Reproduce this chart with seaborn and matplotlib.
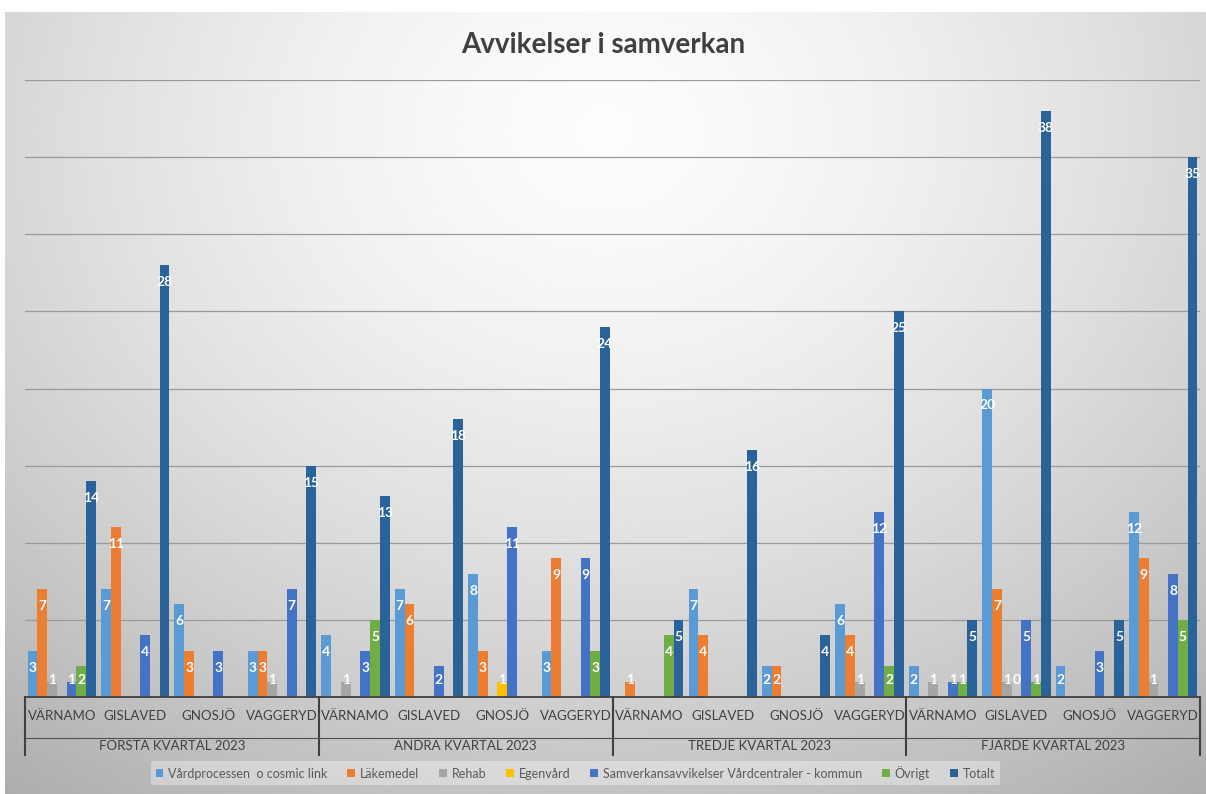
import numpy as np
import pandas as pd
import seaborn as sns
import matplotlib.pyplot as plt
from matplotlib import transforms

N = np.nan

quarters = ["FÖRSTA KVARTAL 2023", "ANDRA KVARTAL 2023", "TREDJE KVARTAL 2023", "FJÄRDE KVARTAL 2023"]
kommuner = ["VÄRNAMO", "GISLAVED", "GNOSJÖ", "VAGGERYD"]

series_names = ["Vårdprocessen  o cosmic link", "Läkemedel", "Rehab", "Egenvård",
                "Samverkansavvikelser Vårdcentraler - kommun", "Övrigt", "Totalt"]
colors = ["#5B9BD5", "#ED7D31", "#A5A5A5", "#FFC000", "#4472C4", "#70AD47", "#2A639A"]

# values per quarter x kommun (16 positions), NaN = no bar
vardprocessen = [3, 7, 6, 3,    4, 7, 8, 3,    N, 7, 2, 6,    2, 20, 2, 12]
lakemedel     = [7, 11, 3, 3,   N, 6, 3, 9,    1, 4, 2, 4,    N, 7, N, 9]
rehab         = [1, N, N, 1,    1, N, N, N,    N, N, N, 1,    1, 1, N, 1]
egenvard      = [N, N, N, N,    N, N, 1, N,    N, N, N, N,    N, 0, N, N]
samverkan     = [1, 4, 3, 7,    3, 2, 11, 9,   N, N, N, 12,   1, 5, 3, 8]
ovrigt        = [2, N, N, N,    5, N, N, 3,    4, N, N, 2,    1, 1, N, 5]
totalt        = [14, 28, N, 15, 13, 18, N, 24, 5, 16, 4, 25,   5, 38, 5, 35]

all_series = [vardprocessen, lakemedel, rehab, egenvard, samverkan, ovrigt, totalt]

cats = [f"{q}|{k}" for q in quarters for k in kommuner]
rows = []
for name, vals in zip(series_names, all_series):
    for c, v in zip(cats, vals):
        rows.append({"cat": c, "serie": name, "value": v})
df = pd.DataFrame(rows)

plt.rcParams['font.family'] = ['Lato', 'DejaVu Sans']

W, H = 1206, 794
fig = plt.figure(figsize=(W / 100, H / 100), dpi=100)
fig.patch.set_facecolor("white")

# gradient background of the chart area
bg = fig.add_axes([5 / W, 0, 1 - 5 / W, 1 - 12 / H])
yy, xx = np.mgrid[0:1:300j, 0:1:400j]
d = np.sqrt(((xx - 0.5) / 0.72) ** 2 + ((yy - 0.15) / 0.92) ** 2)
shade = 0.99 - 0.25 * np.clip(d, 0, 1.2) ** 1.5
bg.imshow(shade, cmap="gray", vmin=0, vmax=1, aspect="auto", extent=[0, 1, 1, 0])
bg.set_axis_off()

ax = fig.add_axes([25 / W, (H - 697) / H, (1200 - 25) / W, (697 - 80) / H])
ax.set_facecolor("none")

sns.barplot(data=df, x="cat", y="value", hue="serie", order=cats, hue_order=series_names,
            palette=colors, saturation=1, width=0.93, errorbar=None, ax=ax)

ax.set_ylim(0, 40)
ax.set_xlim(-0.5, len(cats) - 0.5)
ax.set_yticks(np.arange(5, 41, 5))
ax.set_yticklabels([])
ax.tick_params(axis="y", length=0)
ax.yaxis.grid(True, color="#9a9a9a", lw=0.9)
ax.set_axisbelow(True)
for s in ["top", "right", "left"]:
    ax.spines[s].set_visible(False)
ax.spines["bottom"].set_color("#404040")
ax.spines["bottom"].set_linewidth(1.3)
ax.set_xlabel("")
ax.set_ylabel("")

ax.set_xticks(range(len(cats)))
ax.set_xticklabels(kommuner * len(quarters), fontsize=9.5, color="#404040")
ax.tick_params(axis="x", length=0, pad=9)

# value labels (inside end, white)
for cont in ax.containers:
    for bar in cont:
        v = bar.get_height()
        if np.isnan(v):
            continue
        x = bar.get_x() + bar.get_width() / 2
        ax.text(x, max(v - 1.1, 1.1), f"{v:g}", ha="center", va="center",
                color="white", fontsize=10, fontweight="bold", zorder=5)

# multi-level category axis
trans = transforms.blended_transform_factory(ax.transData, ax.transAxes)
for b in np.arange(-0.5, len(cats), len(kommuner)):
    ax.plot([b, b], [0, -0.094], transform=trans, color="#404040", lw=1.5, clip_on=False)
ax.plot([-0.5, len(cats) - 0.5], [-0.066, -0.066], transform=trans, color="#505050",
        lw=0.8, clip_on=False)
for i, q in enumerate(quarters):
    cx = i * len(kommuner) + (len(kommuner) - 1) / 2
    ax.text(cx, -0.079, q, transform=trans, ha="center", va="center",
            fontsize=9.5, color="#404040")

handles, labels = ax.get_legend_handles_labels()
ax.get_legend().remove()
fig.legend(handles, labels, loc="center", bbox_to_anchor=(0.477, 0.027), ncol=7,
           frameon=True, facecolor="white", framealpha=0.35, edgecolor="none",
           fontsize=9, handlelength=0.6, handleheight=0.6, handletextpad=0.4,
           columnspacing=1.6, labelcolor="#595959")

fig.text(0.5, 1 - 45 / H, "Avvikelser i samverkan", ha="center", va="center",
         fontsize=20, fontweight="bold", color="#404040")

fig.savefig("out.png", dpi=100)
